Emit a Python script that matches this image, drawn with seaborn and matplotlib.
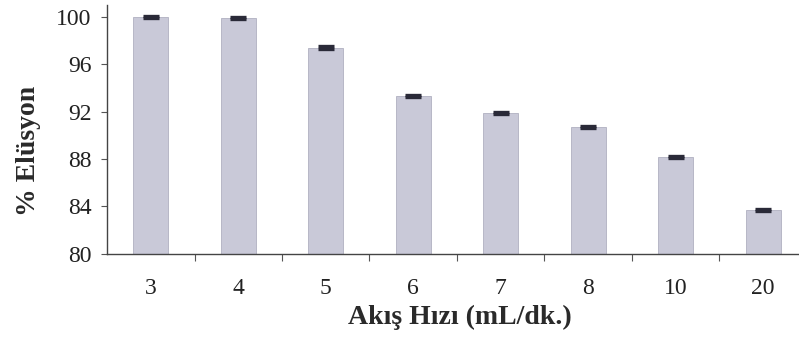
import matplotlib
matplotlib.use("Agg")
import matplotlib.pyplot as plt
from matplotlib.ticker import FixedLocator
import seaborn as sns
import pandas as pd
import numpy as np

# Elution percentage by flow rate
flow_rates = ["3", "4", "5", "6", "7", "8", "10", "20"]
elution = [100.0, 99.9, 97.4, 93.3, 91.9, 90.7, 88.2, 83.7]
errors = [0.1, 0.1, 0.1, 0.1, 0.08, 0.1, 0.08, 0.1]
y_ticks = [80, 84, 88, 92, 96, 100]

sns.set_theme(style="white")
plt.rcParams["font.family"] = ["Liberation Serif", "DejaVu Serif"]

df = pd.DataFrame({"rate": flow_rates, "elution": elution})

fig = plt.figure(figsize=(7.99, 3.45), dpi=100)
ax = fig.add_axes([0.134, 0.264, 0.866, 0.722])

sns.barplot(data=df, x="rate", y="elution", color="#c9c9d8", saturation=1,
            width=0.4, errorbar=None, ax=ax, edgecolor="#b0b0c0", linewidth=0.6)
ax.errorbar(np.arange(len(flow_rates)), elution, yerr=errors, fmt="none",
            ecolor="#2a2a38", elinewidth=1.2, capsize=6, capthick=2.4)

ax.set_ylim(80, 101)
ax.set_xlim(-0.5, 7.41)
ax.set_yticks(y_ticks)
ax.set_yticklabels([str(t) for t in y_ticks], fontsize=17)
ax.set_xticklabels(flow_rates, fontsize=17)

ax.xaxis.set_minor_locator(FixedLocator(np.arange(0.5, len(flow_rates) - 0.5, 1)))
ax.tick_params(axis="x", which="major", length=0, pad=17, colors="#222222")
ax.tick_params(axis="x", which="minor", bottom=True, length=5, width=0.8, direction="out", color="#555555")
ax.tick_params(axis="y", which="major", left=True, length=4, width=0.8, direction="out",
               color="#555555", pad=7, colors="#222222")

for side in ["top", "right"]:
    ax.spines[side].set_visible(False)
for side in ["left", "bottom"]:
    ax.spines[side].set_color("#444444")
    ax.spines[side].set_linewidth(1.0)

ax.set_xlabel("Akış Hızı (mL/dk.)", fontsize=20, fontweight="bold", color="#2a2a2a")
ax.set_ylabel("% Elüsyon", fontsize=20, fontweight="bold", color="#2a2a2a")
ax.yaxis.set_label_coords(-0.095, 0.415)
ax.xaxis.set_label_coords(0.51, -0.205)

fig.savefig("out.png", dpi=100)
